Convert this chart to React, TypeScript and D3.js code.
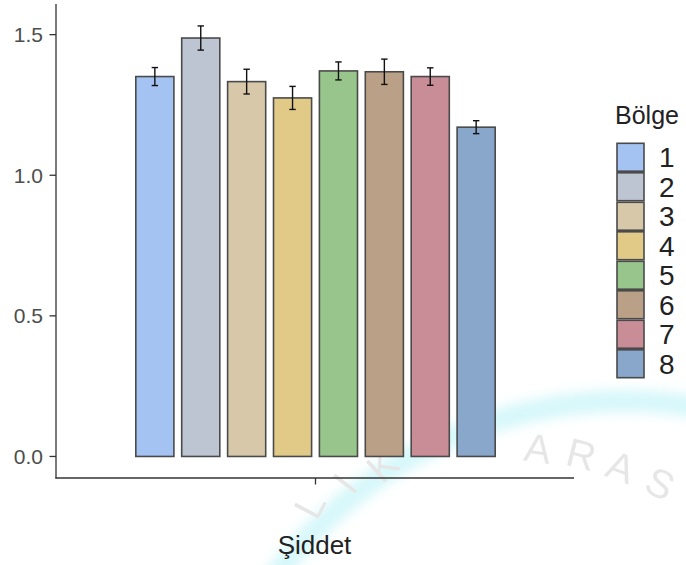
import React from "react";
import * as d3 from "d3";

const categories = ["1", "2", "3", "4", "5", "6", "7", "8"];
const means = [1.351, 1.488, 1.333, 1.275, 1.371, 1.368, 1.351, 1.171];
const errors = [0.032, 0.043, 0.044, 0.041, 0.032, 0.045, 0.031, 0.023];
const colors = ["#a4c3f2", "#bdc5d3", "#d8c8aa", "#e1ca87", "#98c58c", "#bba088", "#c98d98", "#89a6cb"];
const yTicks = [0, 0.5, 1.0, 1.5];
const xCategory = "Şiddet";
const legendTitle = "Bölge";
const watermark = [
  { t: "L", x: 322, y: 512, r: -62 },
  { t: "I", x: 356, y: 492, r: -52 },
  { t: "K", x: 392, y: 476, r: -42 },
  { t: "A", x: 536, y: 462, r: 8 },
  { t: "R", x: 578, y: 468, r: 14 },
  { t: "A", x: 616, y: 480, r: 20 },
  { t: "S", x: 654, y: 496, r: 26 },
];

const FONT = "'Liberation Sans', Arial, Helvetica, sans-serif";

export default function App() {
  const W = 686, H = 565;
  const axisX = 56, axisY = 478, axisTop = 4, axisRight = 574;
  const center = 315.5;
  const y = d3.scaleLinear().domain([-0.0766, 1.609]).range([axisY, axisTop]);
  const step = 45.9;
  const x = d3
    .scaleBand<string>()
    .domain(categories)
    .range([center - 4 * step, center + 4 * step])
    .paddingInner(0.17)
    .paddingOuter(0.085);
  const bw = x.bandwidth();
  const arc = d3.arc()({
    innerRadius: 426,
    outerRadius: 448,
    startAngle: -Math.PI * 0.32,
    endAngle: Math.PI * 0.12,
  } as any) as string;

  return (
    <svg width={W} height={H} style={{ position: "absolute", left: 0, top: 0, background: "#fff" }} fontFamily={FONT}>
      <defs>
        <filter id="blur" x="-20%" y="-20%" width="140%" height="140%">
          <feGaussianBlur stdDeviation="6" />
        </filter>
      </defs>
      {/* watermark */}
      <g opacity={0.5}>
        <path d={arc} transform="translate(625,838)" fill="#aef0f5" filter="url(#blur)" />
        {watermark.map((w, i) => (
          <text key={i} x={w.x} y={w.y} transform={`rotate(${w.r},${w.x},${w.y})`} fontSize={40} fill="#cfcfcf" textAnchor="middle">
            {w.t}
          </text>
        ))}
      </g>
      {/* bars */}
      {categories.map((c, i) => (
        <rect
          key={c}
          x={x(c)!}
          y={y(means[i])}
          width={bw}
          height={y(0) - y(means[i])}
          fill={colors[i]}
          stroke="#4a4a4a"
          strokeWidth={1.6}
        />
      ))}
      {/* error bars */}
      {categories.map((c, i) => {
        const cx = x(c)! + bw / 2;
        const y1 = y(means[i] + errors[i]);
        const y2 = y(means[i] - errors[i]);
        return (
          <g key={c} stroke="#111" strokeWidth={1.4}>
            <line x1={cx} x2={cx} y1={y1} y2={y2} />
            <line x1={cx - 3.2} x2={cx + 3.2} y1={y1} y2={y1} />
            <line x1={cx - 3.2} x2={cx + 3.2} y1={y2} y2={y2} />
          </g>
        );
      })}
      {/* axes */}
      <line x1={axisX} x2={axisX} y1={axisTop} y2={axisY + 0.6} stroke="#333" strokeWidth={1.3} />
      <line x1={axisX - 0.6} x2={axisRight} y1={axisY} y2={axisY} stroke="#333" strokeWidth={1.3} />
      {yTicks.map((t) => (
        <g key={t}>
          <line x1={axisX - 6.5} x2={axisX} y1={y(t)} y2={y(t)} stroke="#333" strokeWidth={1.3} />
          <text x={43} y={y(t) + 7.5} textAnchor="end" fontSize={21} fill="#4d4d4d">
            {d3.format(".1f")(t)}
          </text>
        </g>
      ))}
      <line x1={center} x2={center} y1={axisY} y2={axisY + 6.5} stroke="#333" strokeWidth={1.3} />
      <text x={center - 1} y={554} textAnchor="middle" fontSize={26} fill="#222">
        {xCategory}
      </text>
      {/* legend */}
      <text x={615} y={124} fontSize={25} fill="#222">
        {legendTitle}
      </text>
      {categories.map((c, i) => {
        const ky = 142.5 + i * 29.5;
        return (
          <g key={c}>
            <rect x={617} y={ky + 0.8} width={27} height={27.9} fill={colors[i]} stroke="#4a4a4a" strokeWidth={1.6} />
            <text x={659} y={ky + 24.8} fontSize={28} fill="#222">
              {c}
            </text>
          </g>
        );
      })}
    </svg>
  );
}
